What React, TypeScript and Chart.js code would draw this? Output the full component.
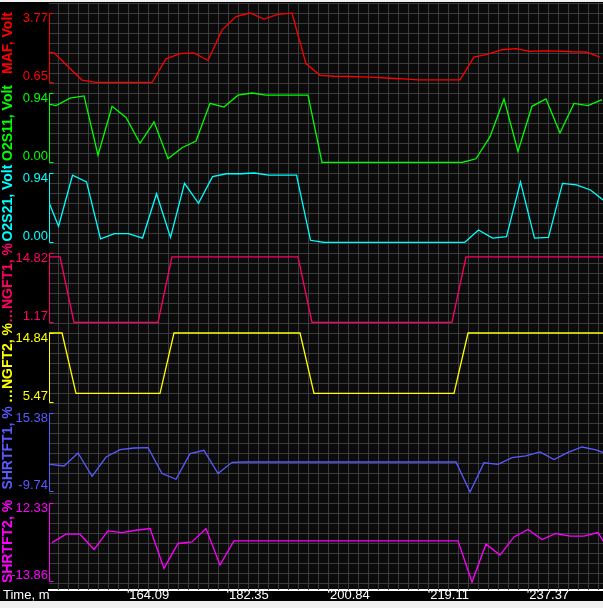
import React, { useEffect, useRef } from 'react';
import { Chart, registerables } from 'chart.js';

Chart.register(...registerables);

// ---- time axis (minutes) ----
const cycleTimes = [
  144.67, 147.24, 149.80, 152.37, 154.93, 157.50, 160.06, 162.63, 165.19, 167.75,
  170.32, 172.88, 175.45, 178.01, 180.58, 183.14, 185.71, 188.27, 190.84, 193.40,
  195.97, 198.53, 201.10, 203.66, 206.23, 208.79, 211.36, 213.92, 216.49, 219.05,
  221.62, 224.18, 226.75, 229.31, 231.87, 234.44, 237.00, 239.57, 242.13, 244.70,
  247.26,
];
const xTickValues = [164.09, 182.35, 200.84, 219.11, 237.37];
const xMin = 145.95;
const xMax = 247.45;

// per-parameter sampling lag within a cycle (minutes)
const mafLag = -0.37;
const o2s11Lag = 0;
const o2s21Lag = 0.46;
const ngft1Lag = 0.73;
const ngft2Lag = 1.1;
const shrt1Lag = 1.47;
const shrt2Lag = 1.83;

// ---- series values ----
const mafVolt = [
  2.05, 1.98, 1.37, 0.76, 0.66, 0.65, 0.65, 0.65, 0.65, 1.71,
  1.95, 1.98, 1.64, 3.0, 3.61, 3.77, 3.5, 3.71, 3.76, 1.5,
  0.97, 0.93, 0.92, 0.9, 0.88, 0.84, 0.81, 0.77, 0.77, 0.77,
  0.77, 1.79, 1.92, 2.12, 2.17, 2.05, 2.07, 2.06, 2.03, 2.02,
  1.79,
];
const o2s11Volt = [
  0.81, 0.77, 0.87, 0.9, 0.1, 0.76, 0.61, 0.26, 0.55, 0.05,
  0.2, 0.29, 0.8, 0.75, 0.91, 0.94, 0.91, 0.91, 0.91, 0.91,
  0.0, 0.0, 0.0, 0.0, 0.0, 0.0, 0.0, 0.0, 0.0, 0.0,
  0.0, 0.05, 0.35, 0.86, 0.15, 0.76, 0.86, 0.4, 0.8, 0.77,
  0.85,
];
const o2s21Volt = [
  0.69, 0.22, 0.91, 0.82, 0.05, 0.12, 0.12, 0.06, 0.66, 0.07,
  0.8, 0.53, 0.89, 0.93, 0.93, 0.94, 0.91, 0.91, 0.91, 0.03,
  0.0, 0.0, 0.0, 0.0, 0.0, 0.0, 0.0, 0.0, 0.0, 0.0,
  0.0, 0.17, 0.06, 0.08, 0.82, 0.06, 0.07, 0.8, 0.78, 0.71,
  0.56,
];
const ngft1Pct = [
  14.04, 14.04, 1.2, 1.2, 1.2, 1.2, 1.2, 1.2, 1.2, 14.04,
  14.04, 14.04, 14.04, 14.04, 14.04, 14.04, 14.04, 14.04, 14.04, 1.2,
  1.2, 1.2, 1.2, 1.2, 1.2, 1.2, 1.2, 1.2, 1.2, 1.2,
  14.04, 14.04, 14.04, 14.04, 14.04, 14.04, 14.04, 14.04, 14.04, 14.04,
  14.04,
];
const ngft2Pct = [
  14.84, 14.84, 6.69, 6.69, 6.69, 6.69, 6.69, 6.69, 6.69, 14.84,
  14.84, 14.84, 14.84, 14.84, 14.84, 14.84, 14.84, 14.84, 14.84, 6.69,
  6.69, 6.69, 6.69, 6.69, 6.69, 6.69, 6.69, 6.69, 6.69, 6.69,
  14.84, 14.84, 14.84, 14.84, 14.84, 14.84, 14.84, 14.84, 14.84, 14.84,
  14.84,
];
const shrtft1Pct = [
  -0.93, -1.47, 2.66, -4.75, 1.39, 3.74, 4.25, 4.38, -3.89, -5.7,
  2.47, 3.52, -3.89, -0.3, -0.2, -0.2, -0.2, -0.2, -0.2, -0.2,
  -0.2, -0.2, -0.2, -0.2, -0.2, -0.2, -0.2, -0.2, -0.2, -0.2,
  -9.74, -0.45, -0.93, 1.2, 1.77, 2.98, 0.56, 2.88, 4.57, 3.68,
  1.93,
];
const shrtft2Pct = [
  -0.82, 1.98, 1.98, -3.07, 3.07, 2.54, 3.3, 3.86, -9.34, -1.09,
  -0.56, 3.86, -8.25, -0.23, -0.23, -0.23, -0.23, -0.23, -0.23, -0.23,
  -0.23, -0.23, -0.23, -0.23, -0.23, -0.23, -0.23, -0.23, -0.23, -0.23,
  -13.86, -1.32, -4.95, 1.09, 3.53, 0.23, 2.21, 1.32, 1.32, 2.54,
  -4.95,
];

// ---- panel axes (top to bottom) ----
const axisIds = ['yMaf', 'yO2s11', 'yO2s21', 'yNgft1', 'yNgft2', 'yShrt1', 'yShrt2'];
const axisTitles = ['MAF, Volt', 'O2S11, Volt', 'O2S21, Volt', '\u2026NGFT1, %', '\u2026NGFT2, %', 'SHRTFT1, %', 'SHRTFT2, %'];
const axisTop = [3.77, 0.94, 0.94, 14.82, 14.84, 15.38, 12.33];
const axisBottom = [0.65, 0.0, 0.0, 1.17, 5.47, -9.74, -13.86];
const seriesColors = ['#ff0000', '#00ff00', '#00ffff', '#ff0066', '#ffff00', '#5a5aff', '#ff00ff'];
const seriesValues = [mafVolt, o2s11Volt, o2s21Volt, ngft1Pct, ngft2Pct, shrtft1Pct, shrtft2Pct];
const seriesLags = [mafLag, o2s11Lag, o2s21Lag, ngft1Lag, ngft2Lag, shrt1Lag, shrt2Lag];

// layout (pixels)
const panelHeights = [80, 80, 80, 80, 80, 90, 97];
const bracketLens = [69.5, 69.5, 69.5, 69.5, 69.5, 79, 79];
const bracketPad = 10;
const FONT = '"Liberation Sans", Arial, sans-serif';

function panelRange(i: number) {
  const k = (axisTop[i] - axisBottom[i]) / bracketLens[i];
  const max = axisTop[i] + bracketPad * k;
  const min = axisBottom[i] - (panelHeights[i] - bracketPad - bracketLens[i]) * k;
  return { k, min, max };
}

const decorPlugin = {
  id: 'panelDecor',
  beforeDraw(chart: any) {
    const { ctx, chartArea: a } = chart;
    ctx.save();
    ctx.fillStyle = '#000000';
    ctx.fillRect(0, 0, chart.width, chart.height);
    ctx.fillStyle = '#0b0b0b';
    ctx.fillRect(a.left, a.top, a.right - a.left, a.bottom - a.top);
    ctx.restore();
  },
  beforeDatasetsDraw(chart: any) {
    const { ctx, chartArea: a } = chart;
    ctx.save();
    ctx.strokeStyle = '#3c3c3c';
    ctx.lineWidth = 1;
    ctx.beginPath();
    for (let x = a.left + 9; x < a.right; x += 10) {
      ctx.moveTo(Math.round(x) + 0.5, a.top);
      ctx.lineTo(Math.round(x) + 0.5, a.bottom);
    }
    for (let y = a.top; y < a.bottom - 2; y += 10) {
      ctx.moveTo(a.left, Math.round(y) + 0.5);
      ctx.lineTo(a.right, Math.round(y) + 0.5);
    }
    ctx.stroke();
    // brackets marking each panel's value range
    axisIds.forEach((id, i) => {
      const s = chart.scales[id];
      const yT = Math.round(s.getPixelForValue(axisTop[i])) + 0.5;
      const yB = Math.round(s.getPixelForValue(axisBottom[i])) - 0.5;
      const x = Math.round(a.left) + 0.5;
      ctx.strokeStyle = seriesColors[i];
      ctx.beginPath();
      ctx.moveTo(x + 4, yT);
      ctx.lineTo(x, yT);
      ctx.lineTo(x, yB);
      ctx.lineTo(x + 4, yB);
      ctx.stroke();
    });
    ctx.restore();
  },
  afterDraw(chart: any) {
    const { ctx, chartArea: a } = chart;
    ctx.save();
    ctx.fillStyle = '#ffffff';
    ctx.font = '13px ' + FONT;
    ctx.textBaseline = 'middle';
    ctx.textAlign = 'left';
    ctx.fillText('Time, m', 3, a.bottom + 5.5);
    ctx.restore();
  },
};

export default function App() {
  const ref = useRef<HTMLCanvasElement>(null);

  useEffect(() => {
    const scales: any = {
      x: {
        type: 'linear',
        position: 'bottom',
        min: xMin,
        max: xMax,
        grid: { display: false, drawTicks: false },
        border: { display: true, color: '#ffffff', width: 2 },
        afterBuildTicks: (s: any) => {
          s.ticks = xTickValues.map((v) => ({ value: v }));
        },
        afterFit: (s: any) => {
          s.height = 11;
          s.paddingLeft = 0;
          s.paddingRight = 0;
        },
        ticks: {
          color: '#ffffff',
          font: { family: FONT, size: 13 },
          padding: -2,
          autoSkip: false,
          maxRotation: 0,
          minRotation: 0,
          callback: (v: any) => "'" + Number(v).toFixed(2),
        },
      },
    };
    // define bottom panel first: the last defined stacked axis is placed on top
    for (let i = axisIds.length - 1; i >= 0; i--) {
      const r = panelRange(i);
      const lowTick = axisBottom[i] + 6.5 * r.k;
      const highTick = axisTop[i] - 5.5 * r.k;
      scales[axisIds[i]] = {
        type: 'linear',
        position: 'left',
        stack: 'panels',
        stackWeight: panelHeights[i],
        min: r.min,
        max: r.max,
        grid: { display: false, drawTicks: false },
        border: { display: false },
        afterBuildTicks: (s: any) => {
          s.ticks = [{ value: lowTick }, { value: highTick }];
        },
        afterFit: (s: any) => {
          s.width = 49;
          s.paddingTop = 0;
          s.paddingBottom = 0;
        },
        ticks: {
          color: seriesColors[i],
          font: { family: FONT, size: 13 },
          padding: 1,
          autoSkip: false,
          callback: (_v: any, idx: number) =>
            idx === 0 ? axisBottom[i].toFixed(2) : axisTop[i].toFixed(2),
        },
        title: {
          display: true,
          text: axisTitles[i],
          color: seriesColors[i],
          font: { family: FONT, size: 14, weight: 'bold' },
          padding: { top: 0, bottom: 0 },
        },
      };
    }

    const datasets = axisIds.map((id, i) => ({
      label: axisTitles[i],
      yAxisID: id,
      xAxisID: 'x',
      data: seriesValues[i].map((v, j) => ({ x: cycleTimes[j] + seriesLags[i], y: v })),
      borderColor: seriesColors[i],
      backgroundColor: seriesColors[i],
      borderWidth: 1.3,
      pointRadius: 0,
      pointHoverRadius: 0,
      tension: 0,
      fill: false,
    }));

    const chart = new Chart(ref.current as HTMLCanvasElement, {
      type: 'line',
      data: { datasets },
      options: {
        responsive: false,
        animation: false,
        devicePixelRatio: 1,
        events: [],
        layout: { padding: { top: 1, left: 0, right: 0, bottom: 0 } },
        plugins: {
          legend: { display: false },
          tooltip: { enabled: false },
        },
        scales,
      },
      plugins: [decorPlugin],
    } as any);

    return () => chart.destroy();
  }, []);

  return (
    <div style={{ position: 'fixed', inset: 0, background: '#f0f0f0', overflow: 'hidden' }}>
      <canvas
        ref={ref}
        width={603}
        height={599}
        style={{ position: 'absolute', left: 0, top: 2, width: 603, height: 599, display: 'block', background: '#000' }}
      />
    </div>
  );
}
